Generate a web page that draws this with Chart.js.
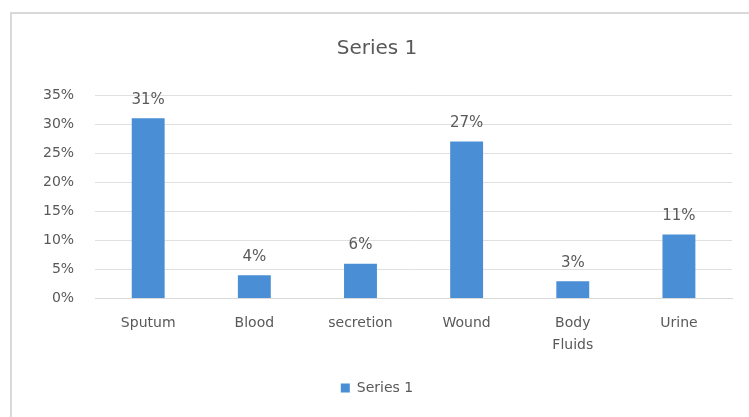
<!DOCTYPE html>
<html>
<head>
<meta charset="utf-8">
<script src="https://cdn.jsdelivr.net/npm/chart.js@4/dist/chart.umd.min.js"></script>
<style>
    html, body { margin: 0; padding: 0; background: #fff; overflow: hidden; }
    #wrap { position: relative; width: 749px; height: 417px; }
    #frame {
        position: absolute; left: 10px; top: 12px; width: 760px; height: 420px;
        border-left: 2px solid #d9d9d9; border-top: 2px solid #d9d9d9;
        box-sizing: border-box; pointer-events: none;
    }
    canvas { position: absolute; left: 0; top: 0; }
</style>
</head>
<body>
<div id="wrap">
    <canvas id="chart" width="749" height="417"></canvas>
    <div id="frame"></div>
</div>
<script>
const categories = ['Sputum', 'Blood', 'secretion', 'Wound', ['Body', 'Fluids'], 'Urine'];
const values = [31, 4, 6, 27, 3, 11];
const seriesName = 'Series 1';

const textColor = '#595959';
const fontFamily = '"DejaVu Sans", sans-serif';

// labels "31%" etc. above each bar
const barLabels = {
    id: 'barLabels',
    afterDatasetsDraw(chart) {
        const ctx = chart.ctx;
        const meta = chart.getDatasetMeta(0);
        ctx.save();
        ctx.font = '15px ' + fontFamily;
        ctx.fillStyle = textColor;
        ctx.textAlign = 'center';
        ctx.textBaseline = 'bottom';
        meta.data.forEach((bar, i) => {
            ctx.fillText(values[i] + '%', bar.x, bar.y - 11);
        });
        ctx.restore();
    }
};

var ctx = document.getElementById('chart').getContext('2d');
var myChart = new Chart(ctx, {
    type: 'bar',
    data: {
        labels: categories,
        datasets: [{
            label: seriesName,
            data: values,
            backgroundColor: '#4a8fd6',
            categoryPercentage: 1,
            barPercentage: 0.31
        }]
    },
    options: {
        responsive: false,
        animation: false,
        layout: { padding: { left: 22, right: 17, top: 37, bottom: 12 } },
        scales: {
            y: {
                min: 0,
                max: 35,
                ticks: {
                    stepSize: 5,
                    padding: 21,
                    color: textColor,
                    font: { size: 14, family: fontFamily },
                    callback: v => v + '%'
                },
                grid: { color: '#e0e0e0', drawTicks: false },
                border: { display: false }
            },
            x: {
                ticks: {
                    color: textColor,
                    padding: 14,
                    font: { size: 14, family: fontFamily, lineHeight: 1.55 },
                    maxRotation: 0
                },
                grid: { display: false, drawTicks: false },
                border: { color: '#d9d9d9' }
            }
        },
        plugins: {
            title: {
                display: true,
                text: seriesName,
                color: textColor,
                font: { size: 20, weight: 'normal', family: fontFamily },
                padding: { top: 0, bottom: 34 }
            },
            legend: {
                position: 'bottom',
                labels: {
                    color: textColor,
                    boxWidth: 9,
                    boxHeight: 9,
                    padding: 11,
                    font: { size: 14, family: fontFamily }
                }
            },
            tooltip: { enabled: false }
        }
    },
    plugins: [barLabels]
});
</script>
</body>
</html>
